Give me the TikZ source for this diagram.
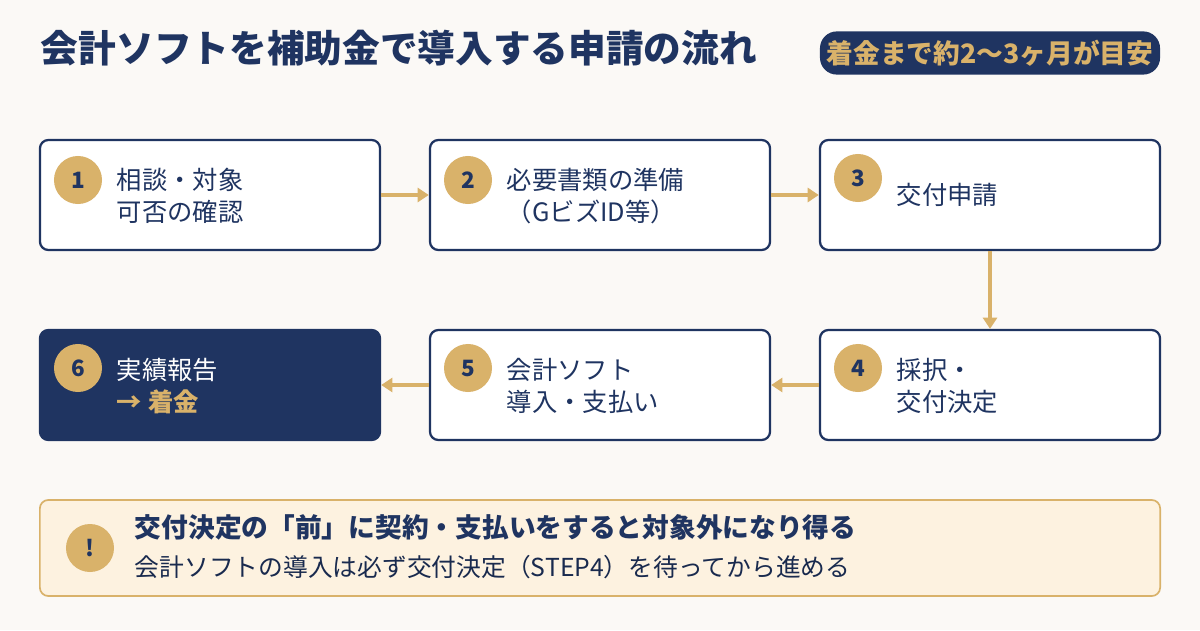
\documentclass[tikz,border=0pt]{standalone}
\usepackage{fontspec}
\setmainfont{Noto Sans CJK JP}
\usetikzlibrary{positioning,arrows.meta}
\definecolor{navy}{HTML}{1F3461}
\definecolor{gold}{HTML}{D9B26A}
\definecolor{paper}{HTML}{FBF9F6}
\definecolor{cream}{HTML}{FDF2E0}
\tikzset{
stepbox/.style={draw=navy,line width=1.6pt,rounded corners=6pt,fill=white,
  minimum width=8.5cm,minimum height=2.75cm},
num/.style={circle,fill=gold,minimum size=1.2cm,inner sep=0pt,
  font=\fontsize{16}{16}\selectfont\bfseries,text=navy},
lbl/.style={anchor=west,align=left,font=\fontsize{18}{23}\selectfont,text=navy},
flow/.style={draw=gold,line width=2.5pt,-{Triangle[length=8pt,width=10pt]}}
}
\begin{document}
\begin{tikzpicture}[x=0.025cm,y=-0.025cm]
\fill[paper] (0,0) rectangle (1200,630);
\useasboundingbox (0,0) rectangle (1200,630);
% title and badge
\node[anchor=west,text=navy,font=\fontsize{26.8}{26.8}\selectfont\bfseries] (title) at (36,48) {会計ソフトを補助金で導入する申請の流れ};
\node[fill=navy,rounded corners=12pt,minimum width=8.5cm,minimum height=1.08cm,inner sep=1pt,
  text=gold,font=\fontsize{19}{19}\selectfont\bfseries] (badge) at (990,53) {着金まで約2〜3ヶ月が目安};
% steps
\node[stepbox] (s1) at (210,195) {};
\node[stepbox] (s2) at (600,195) {};
\node[stepbox] (s3) at (990,195) {};
\node[stepbox] (s4) at (990,385) {};
\node[stepbox] (s5) at (600,385) {};
\node[stepbox,fill=navy] (s6) at (210,385) {};
\node[num] (n1) at (78,180) {1};
\node[num] (n2) at (468,180) {2};
\node[num] (n3) at (858,178) {3};
\node[num] (n4) at (858,368) {4};
\node[num] (n5) at (468,368) {5};
\node[num] (n6) at (78,368) {6};
\node[lbl] (t1) at (112,196) {相談・対象\\可否の確認};
\node[lbl] (t2) at (502,196) {必要書類の準備\\（GビズID等）};
\node[lbl] (t3) at (892,195) {交付申請};
\node[lbl] (t4) at (892,386) {採択・\\交付決定};
\node[lbl] (t5) at (502,386) {会計ソフト\\導入・支払い};
\node[lbl,text=white] (t6) at (112,386) {実績報告\\{\color{gold}\bfseries → 着金}};
% connectors
\draw[flow] (s1) -- (s2);
\draw[flow] (s2) -- (s3);
\draw[flow] (s3) -- (s4);
\draw[flow] (s4) -- (s5);
\draw[flow] (s5) -- (s6);
% note
\node[draw=gold,line width=1.2pt,fill=cream,rounded corners=6pt,
  minimum width=28cm,minimum height=2.4cm] (note) at (600,548) {};
\node[num] (ex) at (90,548) {!};
\node[anchor=west,text=navy,font=\fontsize{19}{19}\selectfont\bfseries] (nt) at (130,527) {交付決定の「前」に契約・支払いをすると対象外になり得る};
\node[anchor=west,text=navy!80!black,font=\fontsize{17.6}{17.6}\selectfont] (ns) at (130,567) {会計ソフトの導入は必ず交付決定（STEP4）を待ってから進める};
\end{tikzpicture}
\end{document}
